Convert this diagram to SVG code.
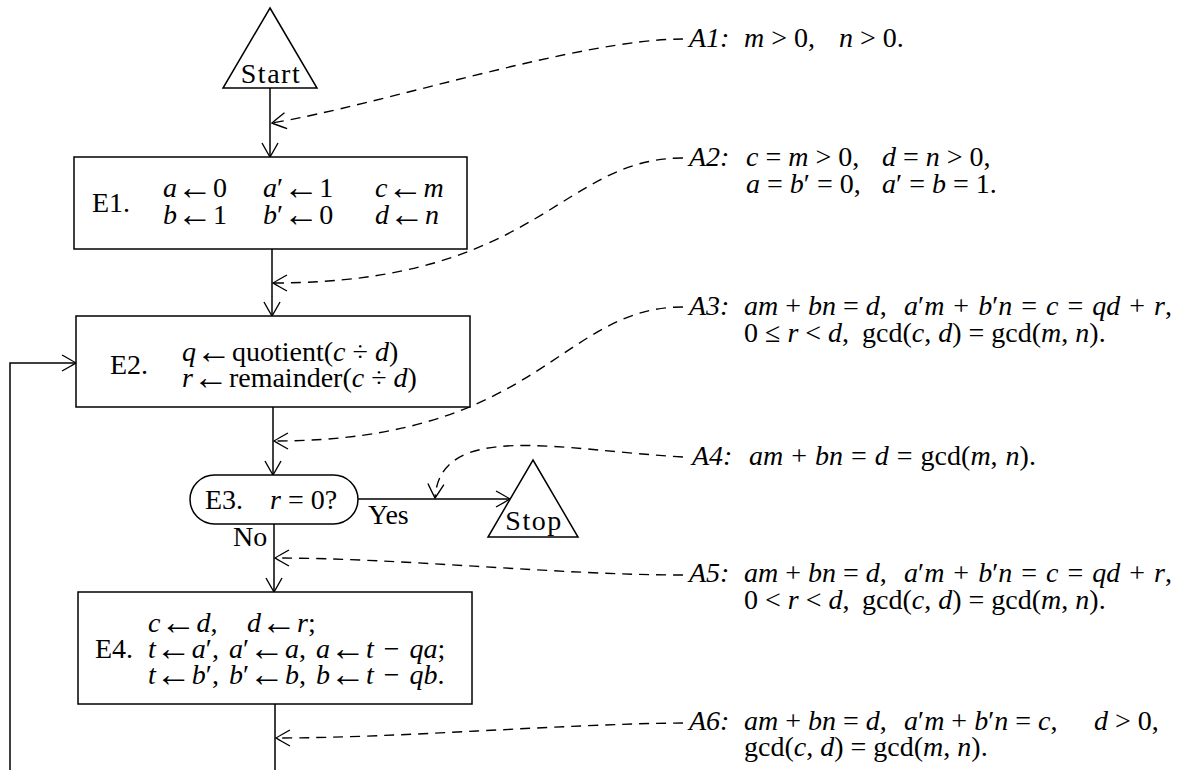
<svg xmlns="http://www.w3.org/2000/svg" width="1193" height="770" viewBox="0 0 1193 770">
<defs>
<style>
text { font-family: "Liberation Serif", "Times New Roman", serif; font-size: 28px; fill: #000; }
.i { font-style: italic; }
.ar { font-size: 36px; font-style: normal; baseline-shift: -2px; }
.w1 { word-spacing: 1px; }
.w2 { word-spacing: 2px; }
.ls { letter-spacing: 1.5px; }
.box { fill: #fff; stroke: #000; stroke-width: 1.5; }
.flow { fill: none; stroke: #000; stroke-width: 1.5; marker-end: url(#arr); }
.dash { fill: none; stroke: #000; stroke-width: 1.4; stroke-dasharray: 10 7; marker-end: url(#arr); }
.mid { text-anchor: middle; }
</style>
<marker id="arr" markerUnits="userSpaceOnUse" viewBox="-16 -11 18 22" markerWidth="18" markerHeight="22" refX="0" refY="0" orient="auto" overflow="visible">
<path d="M -14 -8 Q -5 -3 0 0 Q -5 3 -14 8" fill="none" stroke="#000" stroke-width="1.4" stroke-dasharray="none"/>
</marker>
</defs>
<rect x="0" y="0" width="1193" height="770" fill="#fff"/>

<g id="connectors">
<path class="flow" d="M 270 88 L 270 157"/>
<path class="flow" d="M 272 249 L 272 316"/>
<path class="flow" d="M 273 407 L 273 475"/>
<path class="flow" d="M 358 499 L 510 499"/>
<path class="flow" d="M 274 524 L 274 592"/>
<path class="flow" d="M 275 704 L 275 790 L 10 790 L 10 363 L 76 363"/>
<path class="dash" d="M 683 39 C 580 39, 380 105, 272 123"/>
<path class="dash" d="M 683 158 C 560 158, 540 283, 273 283"/>
<path class="dash" d="M 683 307 C 560 307, 540 441, 274 441"/>
<path class="dash" d="M 683 457 C 560 450, 440 420, 435 498"/>
<path class="dash" d="M 683 575 C 560 575, 400 558, 275 558"/>
<path class="dash" d="M 683 723 C 560 724, 400 738, 276 738"/>
</g>

<g id="start">
<polygon class="box" points="270,8 317,88 223,88"/>
<text class="mid ls" x="271" y="83">Start</text>
</g>

<g id="e1">
<rect class="box" x="74" y="157" width="393" height="92"/>
<text x="92" y="212">E1.</text>
<text x="163" y="197"><tspan class="i">a</tspan><tspan class="ar">←</tspan>0</text>
<text x="263" y="197"><tspan class="i">a</tspan>′<tspan class="ar">←</tspan>1</text>
<text x="375" y="197"><tspan class="i">c</tspan><tspan class="ar">←</tspan><tspan class="i">m</tspan></text>
<text x="163" y="224"><tspan class="i">b</tspan><tspan class="ar">←</tspan>1</text>
<text x="263" y="224"><tspan class="i">b</tspan>′<tspan class="ar">←</tspan>0</text>
<text x="375" y="224"><tspan class="i">d</tspan><tspan class="ar">←</tspan><tspan class="i">n</tspan></text>
</g>

<g id="e2">
<rect class="box" x="76" y="316" width="394" height="91"/>
<text x="110" y="374">E2.</text>
<text x="182" y="361"><tspan class="i">q</tspan><tspan class="ar">←</tspan>quotient(<tspan class="i">c</tspan> ÷ <tspan class="i">d</tspan>)</text>
<text x="182" y="387"><tspan class="i">r</tspan><tspan class="ar">←</tspan>remainder(<tspan class="i">c</tspan> ÷ <tspan class="i">d</tspan>)</text>
</g>

<g id="e3">
<rect class="box" x="190" y="475" width="168" height="49" rx="24.5" ry="24.5"/>
<text x="205" y="509">E3.</text>
<text x="270" y="509"><tspan class="i">r</tspan> = 0?</text>
<text x="368" y="524">Yes</text>
<text x="233" y="546">No</text>
</g>

<g id="stop">
<polygon class="box" points="533,460 578,537 488,537"/>
<text class="mid ls" x="534" y="530">Stop</text>
</g>

<g id="e4">
<rect class="box" x="78" y="592" width="394" height="112"/>
<text x="148" y="632"><tspan class="i">c</tspan><tspan class="ar">←</tspan><tspan class="i">d</tspan>,</text>
<text x="247" y="632"><tspan class="i">d</tspan><tspan class="ar">←</tspan><tspan class="i">r</tspan>;</text>
<text x="95" y="658">E4.</text>
<text x="148" y="658" style="word-spacing:3px"><tspan class="i">t</tspan><tspan class="ar">←</tspan><tspan class="i">a</tspan>′, <tspan class="i">a</tspan>′<tspan class="ar">←</tspan><tspan class="i">a</tspan>, <tspan class="i">a</tspan><tspan class="ar">←</tspan><tspan class="i">t</tspan> − <tspan class="i">qa</tspan>;</text>
<text x="148" y="684" style="word-spacing:3px"><tspan class="i">t</tspan><tspan class="ar">←</tspan><tspan class="i">b</tspan>′, <tspan class="i">b</tspan>′<tspan class="ar">←</tspan><tspan class="i">b</tspan>, <tspan class="i">b</tspan><tspan class="ar">←</tspan><tspan class="i">t</tspan> − <tspan class="i">qb</tspan>.</text>
</g>

<g id="a1">
<text class="i" x="689" y="47">A1:</text>
<text x="744" y="47"><tspan class="i">m</tspan> &gt; 0,</text>
<text x="839" y="47"><tspan class="i">n</tspan> &gt; 0.</text>
</g>

<g id="a2">
<text class="i" x="689" y="166">A2:</text>
<text x="746" y="166"><tspan class="i">c</tspan> = <tspan class="i">m</tspan> &gt; 0,</text>
<text x="882" y="166"><tspan class="i">d</tspan> = <tspan class="i">n</tspan> &gt; 0,</text>
<text x="746" y="193"><tspan class="i">a</tspan> = <tspan class="i">b</tspan>′ = 0,</text>
<text x="882" y="193"><tspan class="i">a</tspan>′ = <tspan class="i">b</tspan> = 1.</text>
</g>

<g id="a3">
<text class="i" x="689" y="315">A3:</text>
<text x="744" y="315"><tspan class="i">am</tspan> + <tspan class="i">bn</tspan> = <tspan class="i">d</tspan>,</text>
<text class="w2" x="904" y="315"><tspan class="i">a</tspan>′<tspan class="i">m</tspan> + <tspan class="i">b</tspan>′<tspan class="i">n</tspan> = <tspan class="i">c</tspan> = <tspan class="i">qd</tspan> + <tspan class="i">r</tspan>,</text>
<text x="744" y="342">0 ≤ <tspan class="i">r</tspan> &lt; <tspan class="i">d</tspan>,</text>
<text x="862" y="342">gcd(<tspan class="i">c</tspan>, <tspan class="i">d</tspan>) = gcd(<tspan class="i">m</tspan>, <tspan class="i">n</tspan>).</text>
</g>

<g id="a4">
<text class="i" x="692" y="465">A4:</text>
<text class="w1" x="749" y="465"><tspan class="i">am</tspan> + <tspan class="i">bn</tspan> = <tspan class="i">d</tspan> = gcd(<tspan class="i">m</tspan>, <tspan class="i">n</tspan>).</text>
</g>

<g id="a5">
<text class="i" x="689" y="582">A5:</text>
<text x="744" y="582"><tspan class="i">am</tspan> + <tspan class="i">bn</tspan> = <tspan class="i">d</tspan>,</text>
<text class="w2" x="904" y="582"><tspan class="i">a</tspan>′<tspan class="i">m</tspan> + <tspan class="i">b</tspan>′<tspan class="i">n</tspan> = <tspan class="i">c</tspan> = <tspan class="i">qd</tspan> + <tspan class="i">r</tspan>,</text>
<text x="744" y="609">0 &lt; <tspan class="i">r</tspan> &lt; <tspan class="i">d</tspan>,</text>
<text x="862" y="609">gcd(<tspan class="i">c</tspan>, <tspan class="i">d</tspan>) = gcd(<tspan class="i">m</tspan>, <tspan class="i">n</tspan>).</text>
</g>

<g id="a6">
<text class="i" x="689" y="730">A6:</text>
<text x="744" y="730"><tspan class="i">am</tspan> + <tspan class="i">bn</tspan> = <tspan class="i">d</tspan>,</text>
<text x="904" y="730"><tspan class="i">a</tspan>′<tspan class="i">m</tspan> + <tspan class="i">b</tspan>′<tspan class="i">n</tspan> = <tspan class="i">c</tspan>,</text>
<text x="1094" y="730"><tspan class="i">d</tspan> &gt; 0,</text>
<text x="744" y="756">gcd(<tspan class="i">c</tspan>, <tspan class="i">d</tspan>) = gcd(<tspan class="i">m</tspan>, <tspan class="i">n</tspan>).</text>
</g>
</svg>
